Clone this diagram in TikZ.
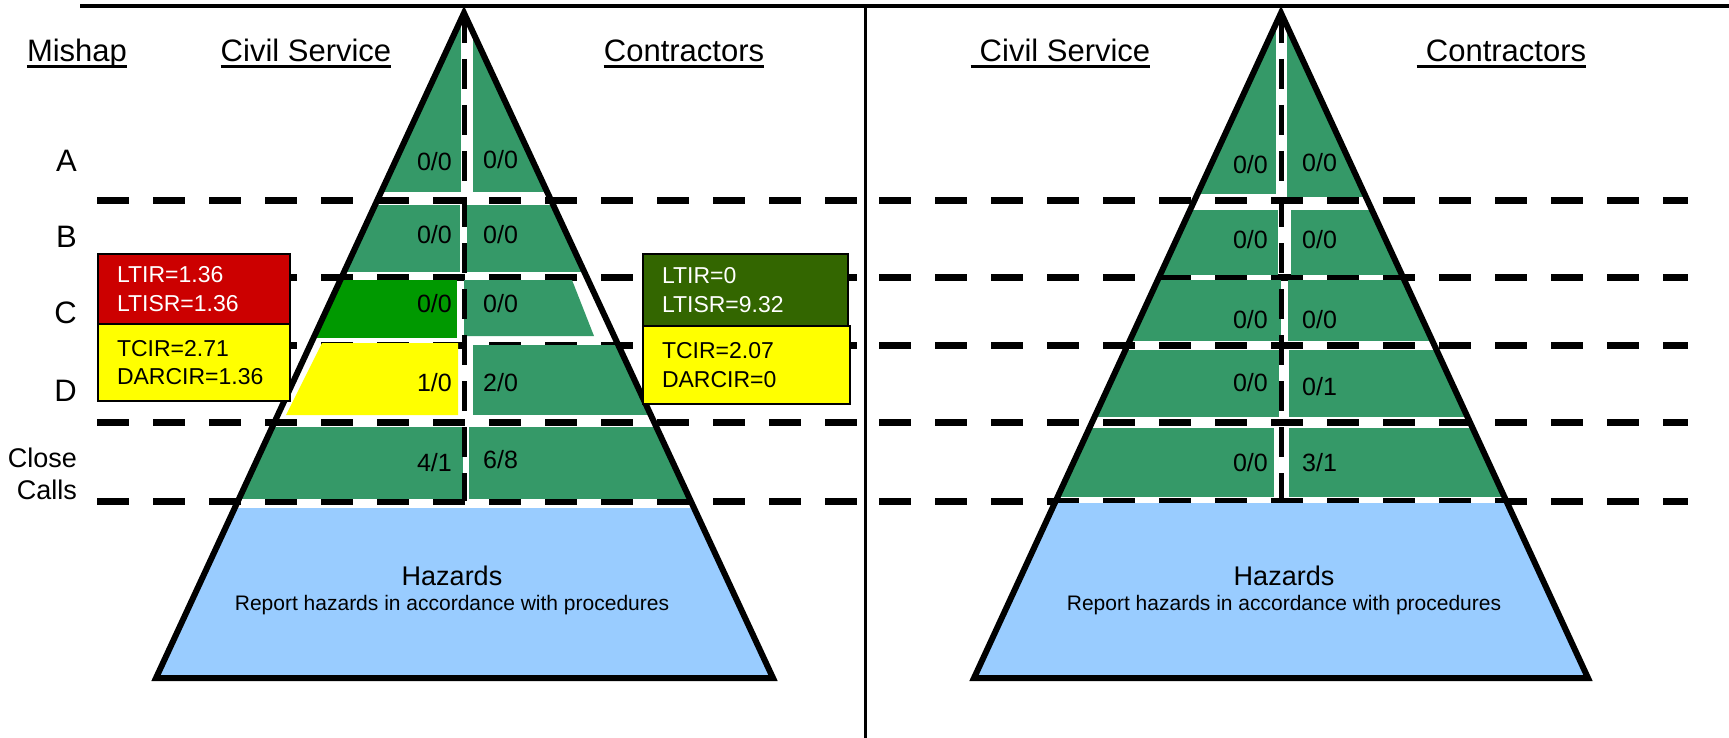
\documentclass[tikz,border=0pt]{standalone}
\usepackage{fontspec}
\setmainfont{Liberation Sans}
\usepackage{tikz}

\definecolor{cellgreen}{RGB}{53,153,104}
\definecolor{hotgreen}{RGB}{0,153,0}
\definecolor{warnyellow}{RGB}{255,255,0}
\definecolor{alertred}{RGB}{204,0,0}
\definecolor{darkolive}{RGB}{51,102,0}
\definecolor{hazardblue}{RGB}{153,204,255}

\tikzset{
  rowline/.style={line width=7pt, dash pattern=on 32pt off 24pt},
  midline/.style={line width=5pt, dash pattern=on 30pt off 16pt},
  pyredge/.style={line width=6pt, line join=miter},
  count/.style={inner sep=0pt, font=\fontsize{25}{30}\selectfont},
  head/.style={inner sep=0pt, anchor=base, font=\fontsize{31}{37}\selectfont},
  rowtag/.style={inner sep=0pt, anchor=east, font=\fontsize{31}{37}\selectfont},
  rate/.style={draw, line width=2pt, anchor=north west, align=left, inner xsep=19pt,
    font=\fontsize{23}{28.5}\selectfont},
}

\begin{document}
\begin{tikzpicture}[x=1pt, y=-1pt]
  \useasboundingbox (0,0) rectangle (1729,738);

  % frame lines
  \draw[line width=4pt] (80,6) -- (1729,6);
  \draw[line width=3pt] (865,6) -- (865,738);

  % mishap class rows
  \foreach \y in {201,277,345,422,501} {
    \draw[rowline] (97,\y) -- (858,\y);
    \draw[rowline] (879,\y) -- (1688,\y);
  }

  \coordinate (lapex) at (464,13);
  \coordinate (lbl) at (156,678);
  \coordinate (lbr) at (773,678);
  \coordinate (rapex) at (1281,13);
  \coordinate (rbl) at (974,678);
  \coordinate (rbr) at (1588,678);

  % left pyramid cells
  \begin{scope}
    \clip (lapex) -- (lbl) -- (lbr) -- cycle;
    \fill[cellgreen] (300,13) rectangle (461,192);
    \fill[cellgreen] (473,13) rectangle (640,192);
    \fill[cellgreen] (300,205) rectangle (460,272);
    \fill[cellgreen] (467,205) rectangle (640,272);
    \fill[hotgreen] (300,280) rectangle (457,338);
    \fill[cellgreen] (473,345) rectangle (660,415);
    \fill[cellgreen] (230,427) rectangle (463,499);
    \fill[cellgreen] (469,427) rectangle (700,499);
    \fill[hazardblue] (140,508) rectangle (790,680);
  \end{scope}
  \fill[cellgreen] (464,280) -- (572,280) -- (594,336) -- (464,336) -- cycle;
  \fill[warnyellow] (322,343) -- (458,343) -- (458,415) -- (286,415) -- cycle;

  % right pyramid cells
  \begin{scope}
    \clip (rapex) -- (rbl) -- (rbr) -- cycle;
    \fill[cellgreen] (1100,13) rectangle (1276,194);
    \fill[cellgreen] (1287,13) rectangle (1460,197);
    \fill[cellgreen] (1050,210) rectangle (1278,275);
    \fill[cellgreen] (1291,210) rectangle (1500,275);
    \fill[cellgreen] (1030,280) rectangle (1281,341);
    \fill[cellgreen] (1288,280) rectangle (1530,341);
    \fill[cellgreen] (1000,350) rectangle (1279,417);
    \fill[cellgreen] (1289,350) rectangle (1560,417);
    \fill[cellgreen] (970,428) rectangle (1274,497);
    \fill[cellgreen] (1289,428) rectangle (1590,497);
    \fill[hazardblue] (960,503) rectangle (1600,680);
  \end{scope}

  % split between civil service and contractors
  \draw[midline] (lapex) -- (464,501);
  \draw[midline] (rapex) -- (1281,501);

  \draw[pyredge] (lapex) -- (lbl) -- (lbr) -- cycle;
  \draw[pyredge] (rapex) -- (rbl) -- (rbr) -- cycle;

  % rate boxes
  \node[rate, fill=alertred, text=white, text width=154pt, minimum height=70pt] (csLost) at (97,253) {LTIR=1.36\\LTISR=1.36};
  \node[rate, fill=warnyellow, text width=154pt, minimum height=77pt] (csTotal) at (97,323) {TCIR=2.71\\DARCIR=1.36};
  \node[rate, fill=darkolive, text=white, text width=167pt, minimum height=72pt] (ctLost) at (642,253) {LTIR=0\\LTISR=9.32};
  \node[rate, fill=warnyellow, text width=169pt, minimum height=78pt] (ctTotal) at (642,325) {TCIR=2.07\\DARCIR=0};

  % headings
  \node[head] (mishap) at (77,62) {Mishap};
  \node[head] (lcivil) at (306,62) {Civil Service};
  \node[head] (lcontr) at (684,62) {Contractors};
  \node[head] (rcivil) at (1065,62) {Civil Service};
  \node[head] (rcontr) at (1506,62) {Contractors};
  \foreach \n in {mishap,lcivil,lcontr}
    \draw[line width=3pt] ([yshift=-5pt]\n.base west) -- ([yshift=-5pt]\n.base east);
  \foreach \n in {rcivil,rcontr}
    \draw[line width=3pt] ([xshift=-9pt,yshift=-5pt]\n.base west) -- ([yshift=-5pt]\n.base east);

  \node[rowtag] (tagA) at (77,161) {A};
  \node[rowtag] (tagB) at (77,237) {B};
  \node[rowtag] (tagC) at (77,313) {C};
  \node[rowtag] (tagD) at (77,391) {D};
  \node[rowtag, align=right, font=\fontsize{27}{32}\selectfont] (tagCC) at (77,474) {Close\\Calls};

  % counts, left pyramid
  \node[count, anchor=east] (lA1) at (452,162) {0/0};
  \node[count, anchor=west] (lA2) at (483,160) {0/0};
  \node[count, anchor=east] (lB1) at (452,235) {0/0};
  \node[count, anchor=west] (lB2) at (483,235) {0/0};
  \node[count, anchor=east] (lC1) at (452,304) {0/0};
  \node[count, anchor=west] (lC2) at (483,304) {0/0};
  \node[count, anchor=east] (lD1) at (452,383) {1/0};
  \node[count, anchor=west] (lD2) at (483,383) {2/0};
  \node[count, anchor=east] (lE1) at (452,463) {4/1};
  \node[count, anchor=west] (lE2) at (483,460) {6/8};

  % counts, right pyramid
  \node[count, anchor=east] (rA1) at (1268,165) {0/0};
  \node[count, anchor=west] (rA2) at (1302,163) {0/0};
  \node[count, anchor=east] (rB1) at (1268,240) {0/0};
  \node[count, anchor=west] (rB2) at (1302,240) {0/0};
  \node[count, anchor=east] (rC1) at (1268,320) {0/0};
  \node[count, anchor=west] (rC2) at (1302,320) {0/0};
  \node[count, anchor=east] (rD1) at (1268,383) {0/0};
  \node[count, anchor=west] (rD2) at (1302,387) {0/1};
  \node[count, anchor=east] (rE1) at (1268,463) {0/0};
  \node[count, anchor=west] (rE2) at (1302,463) {3/1};

  % hazards
  \node[font=\fontsize{27}{32}\selectfont] (lhaz) at (452,576) {Hazards};
  \node[font=\fontsize{21}{25}\selectfont] (lrep) at (452,605) {Report hazards in accordance with procedures};
  \node[font=\fontsize{27}{32}\selectfont] (rhaz) at (1284,576) {Hazards};
  \node[font=\fontsize{21}{25}\selectfont] (rrep) at (1284,605) {Report hazards in accordance with procedures};
\end{tikzpicture}
\end{document}
